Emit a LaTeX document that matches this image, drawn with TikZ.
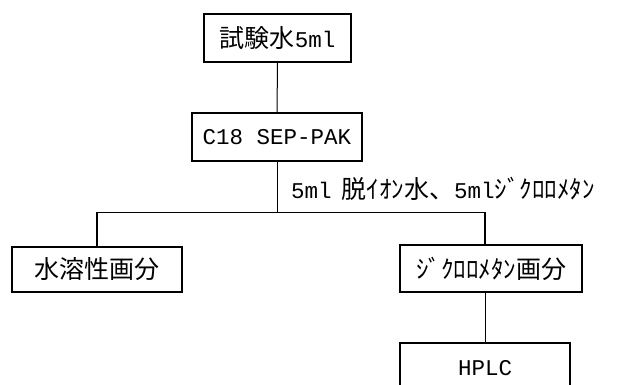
\documentclass[tikz,border=0pt]{standalone}
\usepackage{fontspec}
\setmainfont{Liberation Mono}
\newfontfamily\jpfont{Noto Sans CJK JP}
\newfontfamily\latfont{Liberation Mono}
\newcommand\hw[1]{{\latfont\fontsize{22.5}{23}\selectfont #1}}
\newcommand\jp[1]{{\jpfont\fontsize{25}{26}\selectfont #1}}
\begin{document}
\begin{tikzpicture}[x=1pt,y=-1pt,
  box/.style={draw,line width=1.2pt,inner sep=0pt,anchor=center},
  conn/.style={line width=1pt}]
\useasboundingbox (0,0) rectangle (617,384);
\clip (0,0) rectangle (617,384);
\node[box,minimum width=147pt,minimum height=48pt] (b1) at (277.5,38) {\jp{試験水}\hw{5ml}};
\node[box,minimum width=170pt,minimum height=48pt] (b2) at (277,137) {\hw{C18 SEP-PAK}};
\node[box,minimum width=170pt,minimum height=45pt] (b3) at (97,269.5) {\jp{水溶性画分}};
\node[box,minimum width=182pt,minimum height=47pt] (b4) at (491,268.5) {\jp{ｼﾞｸﾛﾛﾒﾀﾝ画分}};
\node[box,minimum width=170pt,minimum height=56pt] (b5) at (485,371) {\raisebox{7pt}{\hw{HPLC}}};
\node[anchor=west,inner sep=0pt] (lbl) at (291,189) {\hw{5ml}\hspace{10pt}\jp{脱ｲｵﾝ水、}\hw{5ml}\jp{ｼﾞｸﾛﾛﾒﾀﾝ}};
\coordinate (split) at (277,212.5);
\coordinate (b4top) at (485,245);
\coordinate (b4bot) at (485,292);
\draw[conn] (b1.south) -- (b2.north);
\draw[conn] (b2.south) -- (split);
\draw[line width=1.6pt] (b3.north) |- (split) -| (b4top);
\draw[conn] (b4bot) -- (b5.north);
\end{tikzpicture}
\end{document}
